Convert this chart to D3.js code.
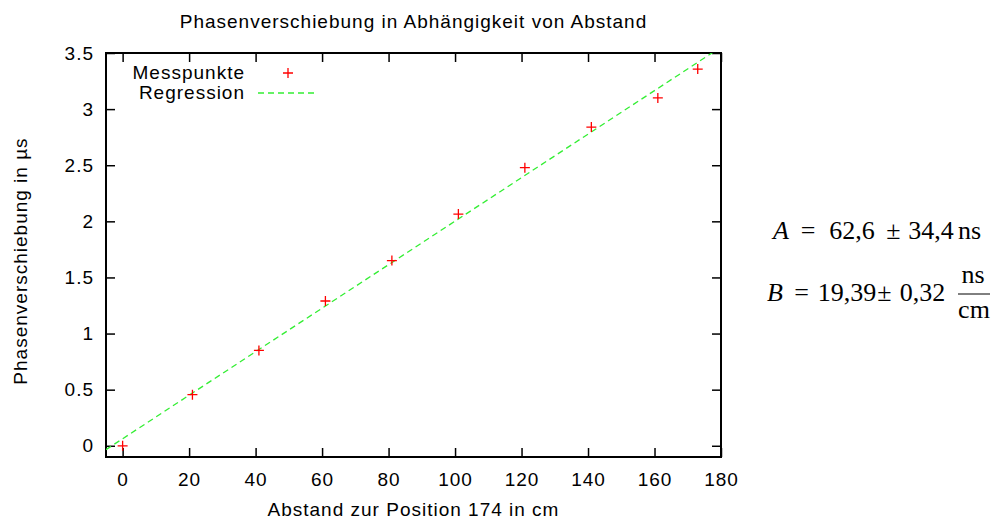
<!DOCTYPE html>
<html>
<head>
<meta charset="utf-8">
<script src="https://cdn.jsdelivr.net/npm/d3@7"></script>
<style>
  body { margin: 0; background: #fff; }
  svg { display: block; font-family: 'Liberation Sans', Arial, sans-serif; }
  .axis { font-family: 'Liberation Sans', Arial, sans-serif; }
  .axis text { font-size: 19px; fill: #000; letter-spacing: 1px; }
  .axis path { display: none; }
  .axis line { stroke: #000; stroke-width: 1.5; }
  .label { font-size: 19px; letter-spacing: 1px; }
  .math { font-family: 'Liberation Serif', 'DejaVu Serif', serif; font-size: 26px; }
</style>
</head>
<body>
<svg id="chart" width="994" height="520"></svg>
<script>
// measured distances (cm) and phase shifts (µs)
const distances = [0, 21, 41, 61, 81, 101, 121, 141, 161, 173];
const phaseShift = [0, 0.455, 0.85, 1.29, 1.65, 2.065, 2.478, 2.84, 3.10, 3.357];
const xTicks = [0, 20, 40, 60, 80, 100, 120, 140, 160, 180];
const yTicks = [0, 0.5, 1, 1.5, 2, 2.5, 3, 3.5];
// fit: A in µs, B in µs/cm
const fitA = 0.0626;
const fitB = 0.01939;

const margin = { left: 106, right: 273, top: 53, bottom: 63 };
const svg = d3.select('#chart');
const width = +svg.attr('width');
const height = +svg.attr('height');
const x = d3.scaleLinear().domain([-5, 180]).range([margin.left, width - margin.right]);
const y = d3.scaleLinear().domain([-0.1, 3.5]).range([height - margin.bottom, margin.top]);
const x0 = x.range()[0], x1 = x.range()[1];
const y0 = y.range()[0], y1 = y.range()[1];

svg.append('defs').append('clipPath')
  .attr('id', 'plot-clip')
  .append('rect')
  .attr('x', x0).attr('y', y1)
  .attr('width', x1 - x0).attr('height', y0 - y1);

// axes with inward ticks, mirrored on top and right
const tickLen = 9;
svg.append('g')
  .attr('class', 'axis')
  .attr('transform', `translate(0,${y0})`)
  .call(d3.axisBottom(x).tickValues(xTicks).tickSizeInner(-tickLen).tickSizeOuter(0).tickPadding(16).tickFormat(d3.format('d')));
svg.append('g')
  .attr('class', 'axis')
  .attr('transform', `translate(0,${y1})`)
  .call(d3.axisTop(x).tickValues(xTicks).tickSizeInner(-tickLen).tickSizeOuter(0).tickFormat(''));
svg.append('g')
  .attr('class', 'axis')
  .attr('transform', `translate(${x0},0)`)
  .call(d3.axisLeft(y).tickValues(yTicks).tickSizeInner(-tickLen).tickSizeOuter(0).tickPadding(12).tickFormat(d => String(d)));
svg.append('g')
  .attr('class', 'axis')
  .attr('transform', `translate(${x1},0)`)
  .call(d3.axisRight(y).tickValues(yTicks).tickSizeInner(-tickLen).tickSizeOuter(0).tickFormat(''));

// border
svg.append('rect')
  .attr('x', x0).attr('y', y1)
  .attr('width', x1 - x0).attr('height', y0 - y1)
  .attr('fill', 'none')
  .attr('stroke', '#000')
  .attr('stroke-width', 2);

// regression line
const fitLine = d3.line()
  .x(d => x(d))
  .y(d => y(fitA + fitB * d));
svg.append('path')
  .datum(x.domain())
  .attr('clip-path', 'url(#plot-clip)')
  .attr('d', fitLine)
  .attr('fill', 'none')
  .attr('stroke', '#33ee33')
  .attr('stroke-width', 1.3)
  .attr('stroke-dasharray', '6,4');

// data points as plus signs
const plus = (cx, cy, r) => `M${cx - r},${cy}H${cx + r}M${cx},${cy - r}V${cy + r}`;
svg.append('g')
  .selectAll('path')
  .data(distances.map((d, i) => [d, phaseShift[i]]))
  .join('path')
  .attr('d', d => plus(x(d[0]), y(d[1]), 5))
  .attr('stroke', '#ff0000')
  .attr('stroke-width', 1.3)
  .attr('fill', 'none');

// legend
const legend = svg.append('g').attr('class', 'label');
legend.append('text')
  .attr('x', 245).attr('y', 79)
  .attr('text-anchor', 'end')
  .text('Messpunkte');
legend.append('text')
  .attr('x', 245).attr('y', 99)
  .attr('text-anchor', 'end')
  .text('Regression');
legend.append('path')
  .attr('d', plus(288, 73, 5))
  .attr('stroke', '#ff0000')
  .attr('stroke-width', 1.3);
legend.append('line')
  .attr('x1', 258).attr('x2', 318)
  .attr('y1', 93).attr('y2', 93)
  .attr('stroke', '#33ee33')
  .attr('stroke-width', 1.3)
  .attr('stroke-dasharray', '6,4');

// titles
svg.append('text')
  .attr('class', 'label')
  .attr('x', (x0 + x1) / 2).attr('y', 28)
  .attr('text-anchor', 'middle')
  .text('Phasenverschiebung in Abhängigkeit von Abstand');
svg.append('text')
  .attr('class', 'label')
  .attr('x', (x0 + x1) / 2).attr('y', 516)
  .attr('text-anchor', 'middle')
  .text('Abstand zur Position 174 in cm');
svg.append('text')
  .attr('class', 'label')
  .attr('transform', `translate(27,261) rotate(-90)`)
  .attr('text-anchor', 'middle')
  .text('Phasenverschiebung in µs');

// fit result annotation, set token by token (centres) like the LaTeX output
const math = svg.append('g').attr('class', 'math');
const mathTokens = [
  { t: 'A', x: 781, y: 239, italic: true },
  { t: '=', x: 808, y: 239 },
  { t: '62,6', x: 852, y: 239 },
  { t: '±', x: 893.5, y: 239 },
  { t: '34,4', x: 931, y: 239 },
  { t: 'ns', x: 969.5, y: 239 },
  { t: 'B', x: 775, y: 301, italic: true },
  { t: '=', x: 801.5, y: 301 },
  { t: '19,39', x: 847, y: 301 },
  { t: '±', x: 884.5, y: 301 },
  { t: '0,32', x: 922.5, y: 301 },
  { t: 'ns', x: 973, y: 283 },
  { t: 'cm', x: 974, y: 318 },
];
math.selectAll('text')
  .data(mathTokens)
  .join('text')
  .attr('x', d => d.x)
  .attr('y', d => d.y)
  .attr('text-anchor', 'middle')
  .attr('font-style', d => d.italic ? 'italic' : null)
  .text(d => d.t);
math.append('line')
  .attr('x1', 958).attr('x2', 990)
  .attr('y1', 294).attr('y2', 294)
  .attr('stroke', '#000').attr('stroke-width', 1);
</script>
</body>
</html>
